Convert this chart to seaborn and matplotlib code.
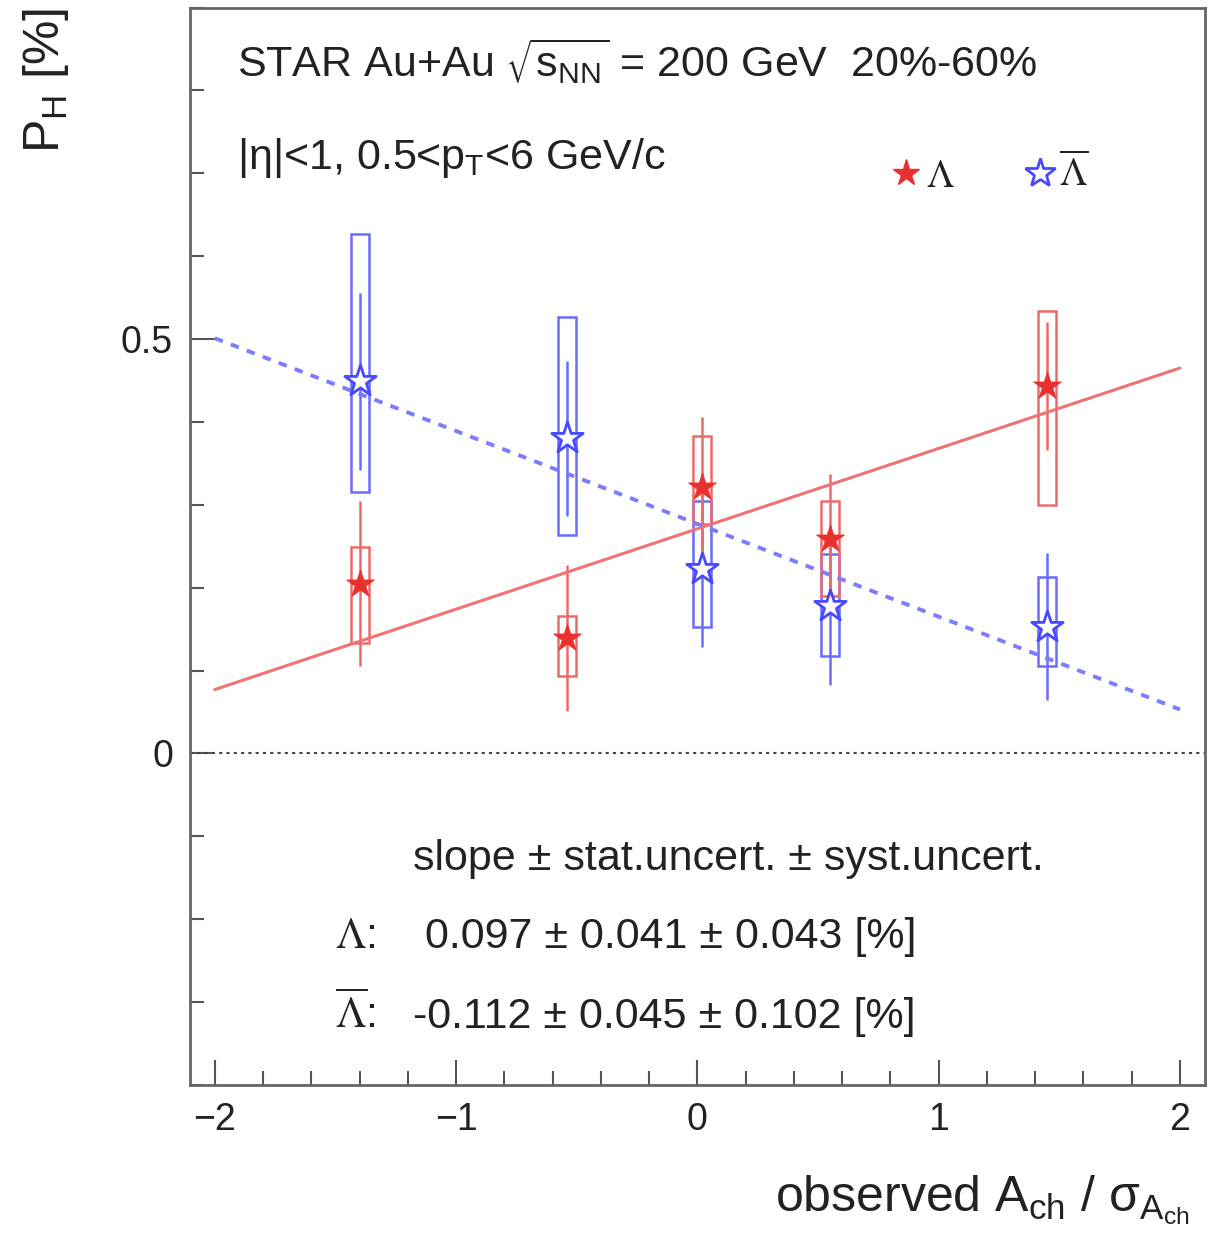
import numpy as np
import pandas as pd
import matplotlib
matplotlib.use("Agg")
import matplotlib.pyplot as plt
from matplotlib import font_manager
from matplotlib.lines import Line2D
from matplotlib.ticker import MultipleLocator
import seaborn as sns

# ---------------- data ----------------
x_lam = [-1.40, -0.54, 0.02, 0.55, 1.45]
y_lam = [0.205, 0.139, 0.322, 0.259, 0.443]
stat_lam = [0.100, 0.088, 0.084, 0.078, 0.077]
syst_lam_lo = [0.072, 0.046, 0.045, 0.069, 0.143]
syst_lam_hi = [0.044, 0.027, 0.061, 0.046, 0.091]

x_alam = [-1.40, -0.54, 0.02, 0.55, 1.45]
y_alam = [0.449, 0.380, 0.223, 0.178, 0.153]
stat_alam = [0.107, 0.093, 0.095, 0.095, 0.089]
syst_alam_lo = [0.133, 0.117, 0.070, 0.060, 0.047]
syst_alam_hi = [0.178, 0.147, 0.082, 0.063, 0.060]

fit_slope_lam, fit_icpt_lam = 0.097, 0.271
fit_slope_alam, fit_icpt_alam = -0.112, 0.277
fit_range = [-2.0, 2.0]

header1 = "STAR Au+Au $\\mathregular{\\sqrt{s_{NN}}}$ = 200 GeV  20%-60%"
header2 = "|η|<1, 0.5<$\\mathregular{p_{T}}$<6 GeV/c"
slope_title = "slope ± stat.uncert. ± syst.uncert."
slope_lam = "0.097 ± 0.041 ± 0.043 [%]"
slope_alam = "-0.112 ± 0.045 ± 0.102 [%]"

# ---------------- style ----------------
sns.set_theme(style="ticks")
names = {f.name for f in font_manager.fontManager.ttflist}
fam = "Liberation Sans Narrow" if "Liberation Sans Narrow" in names else "Liberation Sans"
plt.rcParams["font.family"] = [fam, "DejaVu Sans"]
plt.rcParams["mathtext.fontset"] = "dejavusans"

RED = "#e8312f"
BLUE = "#4848ff"
RED_BOX = "#ee6a6a"
BLUE_BOX = "#6a6aff"
TXT = "#222222"
FS = 31

fig = plt.figure(figsize=(12.16, 12.6), dpi=100)
ax = fig.add_axes([0.156, 0.139, 0.835, 0.855])

# syst boxes
def boxes(x, y, lo, hi, color):
    x = np.asarray(x); y = np.asarray(y)
    lo = np.asarray(lo); hi = np.asarray(hi)
    ax.bar(x, lo + hi, bottom=y - lo, width=0.075, fill=False,
           edgecolor=color, linewidth=1.8, zorder=2)

boxes(x_alam, y_alam, syst_alam_lo, syst_alam_hi, BLUE_BOX)
boxes(x_lam, y_lam, syst_lam_lo, syst_lam_hi, RED_BOX)

# stat error lines
ax.vlines(x_alam, np.array(y_alam) - np.array(stat_alam), np.array(y_alam) + np.array(stat_alam),
          color=BLUE_BOX, lw=1.8, zorder=3)
ax.vlines(x_lam, np.array(y_lam) - np.array(stat_lam), np.array(y_lam) + np.array(stat_lam),
          color=RED_BOX, lw=1.8, zorder=3)

# fit lines
fx = np.array(fit_range)
df_fit = pd.DataFrame({
    "x": np.concatenate([fx, fx]),
    "y": np.concatenate([fit_icpt_lam + fit_slope_lam * fx, fit_icpt_alam + fit_slope_alam * fx]),
    "s": ["lam", "lam", "alam", "alam"],
})
sns.lineplot(data=df_fit[df_fit.s == "lam"], x="x", y="y", color="#f07272", lw=2.2, ax=ax, zorder=4)
sns.lineplot(data=df_fit[df_fit.s == "alam"], x="x", y="y", color="#7c7cff", lw=2.8, ax=ax,
             zorder=4, linestyle=(0, (2.2, 2.2)))

# zero line
ax.axhline(0, color="#444444", lw=1.5, ls=(0, (1.5, 2)), zorder=1)

# markers
sns.scatterplot(x=x_alam, y=y_alam, marker="*", s=560, facecolor="white",
                edgecolor=BLUE, linewidth=2.0, ax=ax, zorder=5)
sns.scatterplot(x=x_lam, y=y_lam, marker="*", s=450, color=RED,
                edgecolor=RED, linewidth=0.5, ax=ax, zorder=6)

# axes
ax.set_xlim(-2.104, 2.104)
ax.set_ylim(-0.4, 0.9)
ax.xaxis.set_major_locator(MultipleLocator(1))
ax.xaxis.set_minor_locator(MultipleLocator(0.2))
ax.set_yticks([0, 0.5])
ax.set_yticklabels(["0", "0.5"])
ax.yaxis.set_minor_locator(MultipleLocator(0.1))
ax.tick_params(axis="both", which="both", direction="in", top=False, right=False,
               colors="#555555", labelcolor=TXT)
ax.tick_params(axis="both", which="major", length=18, width=1.5, labelsize=27, pad=12)
ax.tick_params(axis="both", which="minor", length=10, width=1.5)
for sp in ax.spines.values():
    sp.set_color("#666666")
    sp.set_linewidth(2)

ax.set_xlabel("observed $\\mathregular{A_{ch}}$ / $\\mathregular{σ_{A_{ch}}}$",
              fontsize=36, loc="right", labelpad=26, color=TXT)
ax.xaxis.label.set_x(0.985)
ax.set_ylabel("$\\mathregular{P_{H}}$ [%]", fontsize=36, loc="top", labelpad=36, color=TXT)

# texts
ax.text(-1.909, 0.816, header1, fontsize=FS, color=TXT)
ax.text(-1.909, 0.705, header2, fontsize=FS, color=TXT)
ax.text(-1.179, -0.141, slope_title, fontsize=FS, color=TXT)
ax.text(-1.503, -0.235, "$\\Lambda$:", fontsize=FS, color=TXT, math_fontfamily="stix")
ax.text(-1.130, -0.235, slope_lam, fontsize=FS, color=TXT)
ax.text(-1.503, -0.331, "$\\overline{\\Lambda}$:", fontsize=FS, color=TXT, math_fontfamily="stix")
ax.text(-1.179, -0.331, slope_alam, fontsize=FS, color=TXT)

# legend
handles = [
    Line2D([], [], ls="none", marker="*", ms=20, color=RED, mec=RED),
    Line2D([], [], ls="none", marker="*", ms=22, mfc="white", mec=BLUE, mew=2),
]
leg = ax.legend(handles, ["$\\Lambda$", "$\\overline{\\Lambda}$"], ncol=2, frameon=False,
                loc="center left", bbox_to_anchor=(0.652, 0.845), handletextpad=0.0,
                handlelength=1.0, columnspacing=1.7, fontsize=28)
for t in leg.get_texts():
    t.set_math_fontfamily("stix")
    t.set_color(TXT)

fig.savefig("out.png", dpi=100)
